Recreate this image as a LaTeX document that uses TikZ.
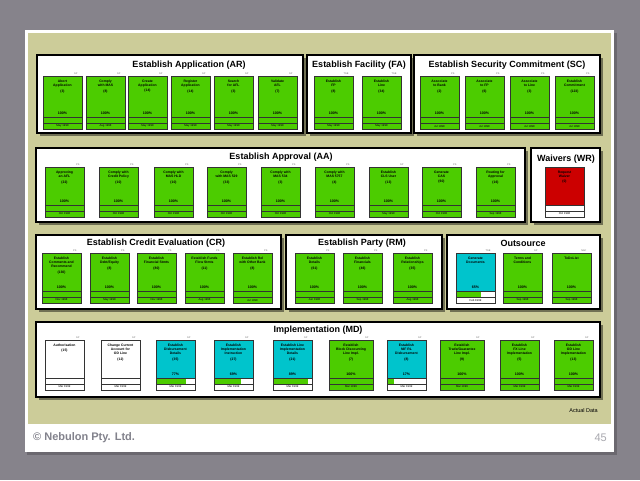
\documentclass[tikz,border=0pt]{standalone}
\usepackage{fontspec}
\setmainfont{Liberation Sans}
\usetikzlibrary{calc, backgrounds, shadows}

\definecolor{tgreen}{RGB}{76,204,0}
\definecolor{tblue}{RGB}{0,196,204}
\definecolor{tred}{RGB}{204,0,0}
\definecolor{khaki}{RGB}{204,204,153}
\definecolor{slgray}{RGB}{134,131,139}
\definecolor{ftgray}{RGB}{130,130,140}

\pgfdeclarelayer{boxshade}
\pgfsetlayers{background,boxshade,main}

% task card: name, top-left, options, text, count, percent, bar fraction, date
\newcommand{\tsk}[8]{%
  \node[task, #3] (#1) at (#2) {};
  \node[tasktxt] (#1-t) at ([yshift=-3.6pt]#1.north) {#4\\[1.6pt]#5};
  \node[taskpct] (#1-p) at ([yshift=4.2pt]#1.south) {#6};
  \coordinate (#1-bl) at ([yshift=-6pt]#1.south west);
  \coordinate (#1-b) at ([yshift=-6pt]#1.south east);
  \coordinate (#1-d) at ([yshift=-12pt]#1.south east);
  \fill[white] (#1.south west) rectangle (#1-b);
  \fill[tgreen] (#1-bl) rectangle ($(#1.south west)!#7!(#1.south east)$);
  \draw[taskline] (#1.south west) rectangle (#1-b);
  \ifdim#7pt<1pt\def\datefill{white}\else\def\datefill{tgreen}\fi
  \draw[taskline, fill=\datefill] (#1-bl) rectangle (#1-d);
  \node[taskdate] (#1-date) at ($(#1-bl)!0.5!(#1-d)$) {#8};
  \begin{pgfonlayer}{boxshade}
    \fill[tshade] ([shift={(1.3pt,-1.3pt)}]#1.north west) rectangle ([shift={(1.3pt,-1.3pt)}]#1-d);
  \end{pgfonlayer}
}

\begin{document}
\begin{tikzpicture}[x=1pt, y=-1pt,
  task/.style={rectangle, draw=black!80, line width=0.5pt, inner sep=0pt,
               outer sep=0pt, minimum width=39, minimum height=38,
               anchor=north west},
  tall/.style={minimum height=41},
  taskline/.style={draw=black!80, line width=0.5pt},
  tasktxt/.style={anchor=north, inner sep=0pt, align=center,
                  font=\fontsize{3.4}{4.1}\selectfont\bfseries},
  taskpct/.style={inner sep=0pt, font=\fontsize{3.6}{4}\selectfont\bfseries},
  taskdate/.style={inner sep=0pt, font=\fontsize{2.8}{3}\selectfont},
  tshade/.style={fill=black, opacity=0.35},
  who/.style={anchor=south east, inner sep=0.4pt, text=black!60,
              font=\fontsize{2.4}{2.5}\selectfont},
  grp/.style={rectangle, draw=black, line width=1.8pt, fill=white,
              inner sep=0pt, outer sep=0pt, anchor=north west,
              drop shadow={shadow xshift=2.5pt, shadow yshift=-2.5pt,
                           fill=black, opacity=0.45}},
  grptitle/.style={inner sep=0pt, font=\fontsize{9}{10}\selectfont\bfseries},
  foot/.style={inner sep=0pt, font=\fontsize{11}{12}\selectfont}
]
\useasboundingbox (0,0) rectangle (640,480);

%% ---- Slide ----
\begin{scope}[on background layer]
  \fill[slgray] (0,0) rectangle (640,480);
  \fill[black, opacity=0.2] (27,33) rectangle (617,455);
  \fill[white] (25,30) rectangle (614,452);
  \fill[khaki] (28,33) rectangle (611,424);

  %% ---- Panels ----
  \node[grp, minimum width=266, minimum height=78] (ar) at (37,55) {};
  \node[grp, minimum width=104, minimum height=78] (fa) at (307,55) {};
  \node[grp, minimum width=186, minimum height=78] (sc) at (414,55) {};
  \node[grp, minimum width=489, minimum height=74] (aa) at (36,148) {};
  \node[grp, minimum width=69,  minimum height=74] (wr) at (531,148) {};
  \node[grp, minimum width=245, minimum height=74] (cr) at (36,235) {};
  \node[grp, minimum width=156, minimum height=74] (rm) at (286,235) {};
  \node[grp, minimum width=153, minimum height=74] (os) at (447,235) {};
  \node[grp, minimum width=564, minimum height=75] (md) at (36,322) {};
\end{scope}

\node[grptitle] (arT) at (189,65.5) {Establish Application (AR)};
\node[grptitle] (faT) at (359,65.5) {Establish Facility (FA)};
\node[grptitle] (scT) at (507,65.5) {Establish Security Commitment (SC)};
\node[grptitle] (aaT) at (281,157) {Establish Approval (AA)};
\node[grptitle] (wrT) at (566,159) {Waivers (WR)};
\node[grptitle] (crT) at (156,243) {Establish Credit Evaluation (CR)};
\node[grptitle] (rmT) at (362,243) {Establish Party (RM)};
\node[grptitle] (osT) at (523,243) {Outsource};
\node[grptitle] (mdT) at (318,330) {Implementation (MD)};

%% ---- Row 1 ----
\tsk{ar1}{43,76}{fill=tgreen, tall}{Abort\\Application}{(3)}{100\%}{1}{May 1998}
\tsk{ar2}{86,76}{fill=tgreen, tall}{Comply\\with MAS}{(8)}{100\%}{1}{Aug 1998}
\tsk{ar3}{128,76}{fill=tgreen, tall}{Create\\Application}{(14)}{100\%}{1}{May 1998}
\tsk{ar4}{171,76}{fill=tgreen, tall}{Register\\Application}{(14)}{100\%}{1}{May 1998}
\tsk{ar5}{214,76}{fill=tgreen, tall}{Search\\for AFL}{(3)}{100\%}{1}{May 1998}
\tsk{ar6}{258,76}{fill=tgreen, tall}{Validate\\AFL}{(7)}{100\%}{1}{May 1998}
\tsk{fa1}{314,76}{fill=tgreen, tall}{Establish\\FP}{(8)}{100\%}{1}{May 1998}
\tsk{fa2}{362,76}{fill=tgreen, tall}{Establish\\Line}{(34)}{100\%}{1}{May 1998}
\tsk{sc1}{420,76}{fill=tgreen, tall}{Associate\\to Bank}{(2)}{100\%}{1}{Jul 1998}
\tsk{sc2}{465,76}{fill=tgreen, tall}{Associate\\to FP}{(6)}{100\%}{1}{Jul 1998}
\tsk{sc3}{510,76}{fill=tgreen, tall}{Associate\\to Line}{(3)}{100\%}{1}{Jul 1998}
\tsk{sc4}{555,76}{fill=tgreen, tall}{Establish\\Commitment}{(123)}{100\%}{1}{Jul 1998}

%% ---- Row 2 ----
\tsk{aa1}{45,167}{fill=tgreen}{Approving\\an AFL}{(22)}{100\%}{1}{Oct 1998}
\tsk{aa2}{99,167}{fill=tgreen}{Comply with\\Credit Policy}{(10)}{100\%}{1}{Oct 1998}
\tsk{aa3}{154,167}{fill=tgreen}{Comply with\\MAS HLD}{(10)}{100\%}{1}{Oct 1998}
\tsk{aa4}{207,167}{fill=tgreen}{Comply\\with MAS 529}{(33)}{100\%}{1}{Oct 1998}
\tsk{aa5}{261,167}{fill=tgreen}{Comply with\\MAS 534}{(3)}{100\%}{1}{Oct 1998}
\tsk{aa6}{315,167}{fill=tgreen}{Comply with\\MAS 5757}{(4)}{100\%}{1}{Oct 1998}
\tsk{aa7}{369,167}{fill=tgreen}{Establish\\CLS User}{(13)}{100\%}{1}{May 1998}
\tsk{aa8}{422,167}{fill=tgreen}{Generate\\CAS}{(60)}{100\%}{1}{Oct 1998}
\tsk{aa9}{476,167}{fill=tgreen}{Routing for\\Approval}{(16)}{100\%}{1}{Sep 1998}
\tsk{wr1}{545,167}{fill=tred}{Request\\Waiver}{(0)}{}{0}{Oct 1998}

%% ---- Row 3 ----
\tsk{cr1}{42,253}{fill=tgreen}{Establish\\Comments and\\Recommend}{(130)}{100\%}{1}{Nov 1998}
\tsk{cr2}{90,253}{fill=tgreen}{Establish\\Debt/Equity}{(8)}{100\%}{1}{May 1998}
\tsk{cr3}{137,253}{fill=tgreen}{Establish\\Financial Stmts}{(80)}{100\%}{1}{Nov 1998}
\tsk{cr4}{185,253}{fill=tgreen}{Establish Funds\\Flow Stmts}{(11)}{100\%}{1}{Aug 1998}
\tsk{cr5}{233,253}{fill=tgreen}{Establish Rel\\with Other Bank}{(8)}{100\%}{1}{Jul 1998}
\tsk{rm1}{295,253}{fill=tgreen}{Establish\\Details}{(61)}{100\%}{1}{Jun 1998}
\tsk{rm2}{343,253}{fill=tgreen}{Establish\\Financials}{(46)}{100\%}{1}{Sep 1998}
\tsk{rm3}{393,253}{fill=tgreen}{Establish\\Relationships}{(35)}{100\%}{1}{Aug 1998}
\tsk{os1}{456,253}{fill=tblue}{Generate\\Documents}{}{65\%}{0.63}{Feb 1999}
\tsk{os2}{503,253}{fill=tgreen}{Terms and\\Conditions}{}{100\%}{1}{Sep 1998}
\tsk{os3}{552,253}{fill=tgreen}{ToDoList}{}{100\%}{1}{Sep 1998}

%% ---- Row 4 ----
\tsk{md1}{45,340}{fill=white}{Authorisation}{(15)}{}{0}{Mar 1999}
\tsk{md2}{101,340}{fill=white}{Change Current\\Account for\\OD Line}{(12)}{}{0}{Mar 1999}
\tsk{md3}{156,340}{fill=tblue}{Establish\\Disbursement\\Details}{(35)}{77\%}{0.77}{Mar 1999}
\tsk{md4}{214,340}{fill=tblue}{Establish\\Implementation\\Instruction}{(27)}{69\%}{0.69}{Mar 1999}
\tsk{md5}{273,340}{fill=tblue}{Establish Line\\Implementation\\Details}{(21)}{89\%}{0.89}{Mar 1999}
\tsk{md6}{329,340}{fill=tgreen, minimum width=44}{Establish\\Block Discounting\\Line Impl.}{(7)}{100\%}{1}{Mar 1999}
\tsk{md7}{387,340}{fill=tblue}{Establish\\NIF RL\\Disbursement}{(8)}{17\%}{0.17}{Mar 1999}
\tsk{md8}{440,340}{fill=tgreen, minimum width=44}{Establish\\Trade/Guarantee\\Line Impl.}{(9)}{100\%}{1}{Mar 1999}
\tsk{md9}{500,340}{fill=tgreen}{Establish\\FX Line\\Implementation}{(5)}{100\%}{1}{Mar 1999}
\tsk{md10}{554,340}{fill=tgreen}{Establish\\OD Line\\Implementation}{(13)}{100\%}{1}{Mar 1999}

%% ---- Owners ----
\foreach \n/\w in {ar1/SP, ar2/SP, ar3/SP, ar4/SP, ar5/SP, ar6/SP,
                   fa1/TSB, fa2/TSB, sc1/PS, sc2/PS, sc3/PS, sc4/PS,
                   aa1/PS, aa2/PS, aa3/PS, aa4/PS, aa5/PS, aa6/PS,
                   aa7/SP, aa8/PS, aa9/PS,
                   cr1/PS, cr2/PS, cr3/PS, cr4/PS, cr5/PS,
                   rm1/PK, rm2/PK, rm3/PK, os1/TSB, os2/SP, os3/NAC,
                   md1/SP, md2/SP, md3/SP, md4/SP, md5/SP,
                   md6/SP, md7/SP, md8/SP, md9/SP, md10/SP}
  \node[who] at ([xshift=-4pt,yshift=0.8pt]\n.north east) {\w};

%% ---- Footer ----
\node[inner sep=0pt, anchor=east, font=\fontsize{5.5}{6}\selectfont] (act) at (598,411) {Actual Data};
\node[foot, anchor=west, text=ftgray, font=\fontsize{11}{12}\selectfont\bfseries] (cpy) at (33,438) {© Nebulon Pty. Ltd.};
\node[foot, anchor=east, text=ftgray!70] (pg) at (607,438) {45};

\end{tikzpicture}
\end{document}
